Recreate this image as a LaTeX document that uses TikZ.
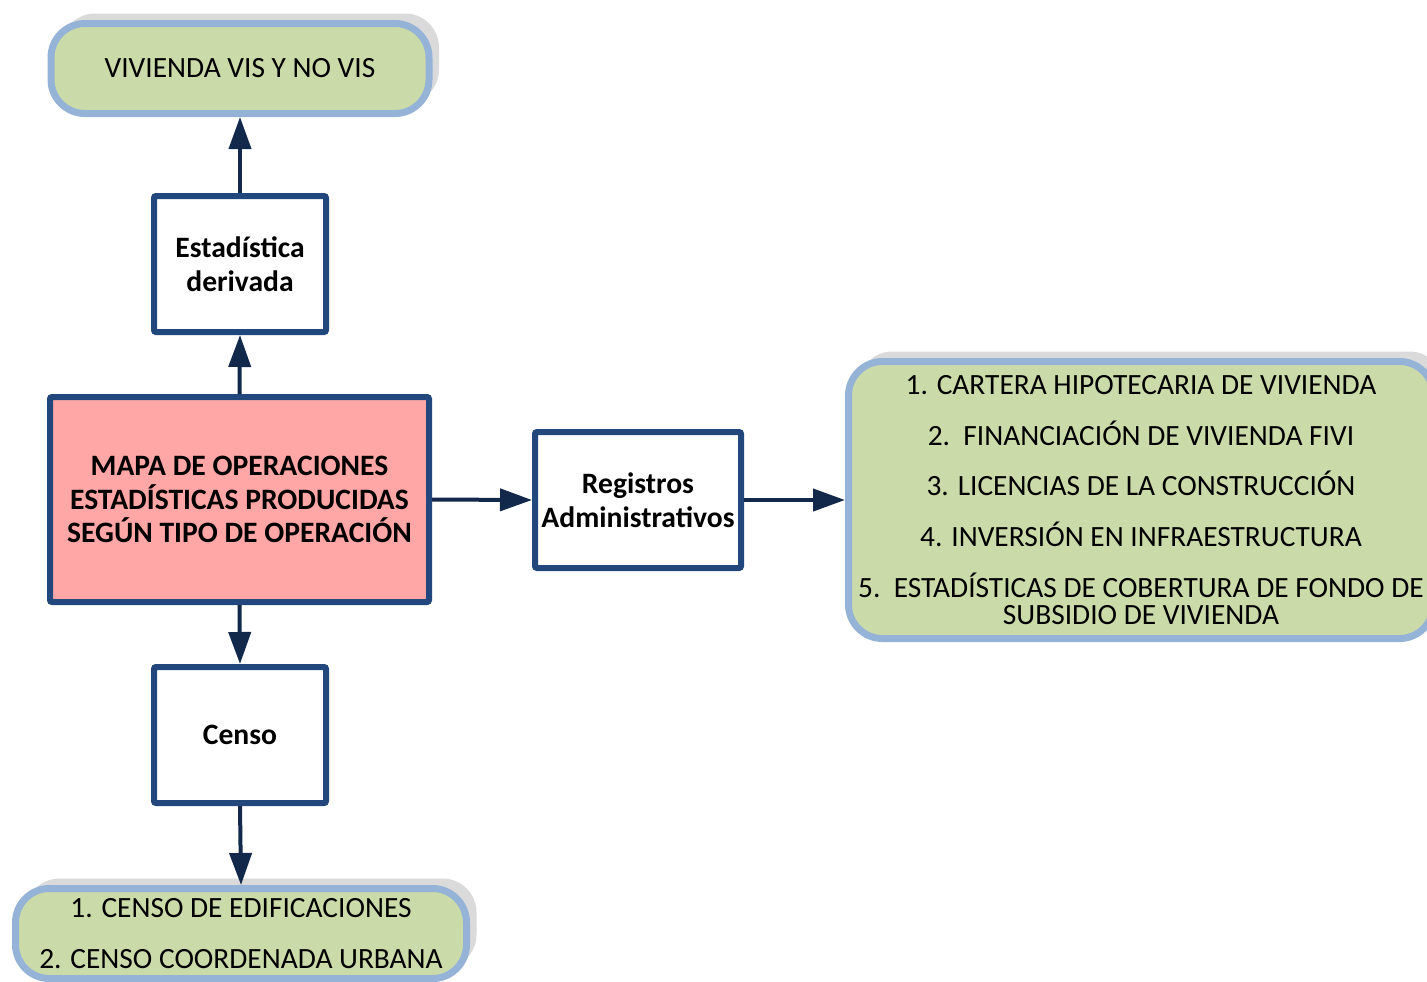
\documentclass[tikz,border=0pt]{standalone}
\usepackage{fontspec}
\setmainfont{Carlito}
\usetikzlibrary{arrows.meta,shadows}
\definecolor{greenfill}{HTML}{CADBA9}
\definecolor{lightblue}{HTML}{95B3D7}
\definecolor{darkblue}{HTML}{22477C}
\definecolor{navy}{HTML}{13294B}
\definecolor{redfill}{HTML}{FFA6A6}
\definecolor{shadowgrey}{HTML}{DADADA}
\tikzset{
  greenbox/.style={draw=lightblue, line width=3.5pt, fill=greenfill, rounded corners=17pt,
    align=center, inner sep=0pt, font=\fontsize{14.7}{13.5}\selectfont,
    drop shadow={shadow xshift=5pt, shadow yshift=5pt, fill=shadowgrey, opacity=1}},
  opbox/.style={draw=darkblue, line width=3pt, fill=white, rounded corners=1pt,
    align=center, inner sep=0pt, font=\fontsize{14.8}{16.9}\selectfont\bfseries},
  conn/.style={draw=navy, line width=2pt, -{Triangle[length=16pt,width=11pt]}}
}
\begin{document}
\begin{tikzpicture}[x=0.5pt,y=-0.5pt]
\clip (0,0) rectangle (1427,981);
\fill[white] (0,0) rectangle (1427,981);
% green result boxes
\node[greenbox, minimum width=189pt, minimum height=45pt] (vis) at (240,68.5) {VIVIENDA VIS Y NO VIS};
\node[greenbox, minimum width=292.5pt, minimum height=138.5pt] (adm) at (1141,500)
  {1. CARTERA HIPOTECARIA DE VIVIENDA\\[11.8pt]
   2.\ \ FINANCIACIÓN DE VIVIENDA FIVI\\[11.8pt]
   3. LICENCIAS DE LA CONSTRUCCIÓN\\[11.8pt]
   4. INVERSIÓN EN INFRAESTRUCTURA\\[11.8pt]
   5.\ \ ESTADÍSTICAS DE COBERTURA DE FONDO DE\\
   SUBSIDIO DE VIVIENDA};
\node[greenbox, minimum width=225.5pt, minimum height=45pt] (cen) at (241,933.5)
  {1. CENSO DE EDIFICACIONES\\[11.8pt]
   2. CENSO COORDENADA URBANA};
% operation boxes
\node[opbox, minimum width=86pt, minimum height=68pt] (der) at (240,264) {Estadística\\derivada};
\node[opbox, fill=redfill, minimum width=189.5pt, minimum height=102.5pt] (mapa) at (239.5,499.5)
  {MAPA DE OPERACIONES\\ESTADÍSTICAS PRODUCIDAS\\SEGÚN TIPO DE OPERACIÓN};
\node[opbox, minimum width=103pt, minimum height=68pt] (reg) at (638,500) {Registros\\Administrativos};
\node[opbox, minimum width=86pt, minimum height=68pt] (censo) at (240,735) {Censo};
% connectors
\draw[conn] (der.north) -- (vis.south);
\draw[conn] (mapa.north) -- (der.south);
\draw[conn] (mapa.east) -- (reg.west);
\draw[conn] (reg.east) -- (adm.west);
\draw[conn] (mapa.south) -- (censo.north);
\draw[conn] (censo.south) -- (cen.north);
\end{tikzpicture}
\end{document}
